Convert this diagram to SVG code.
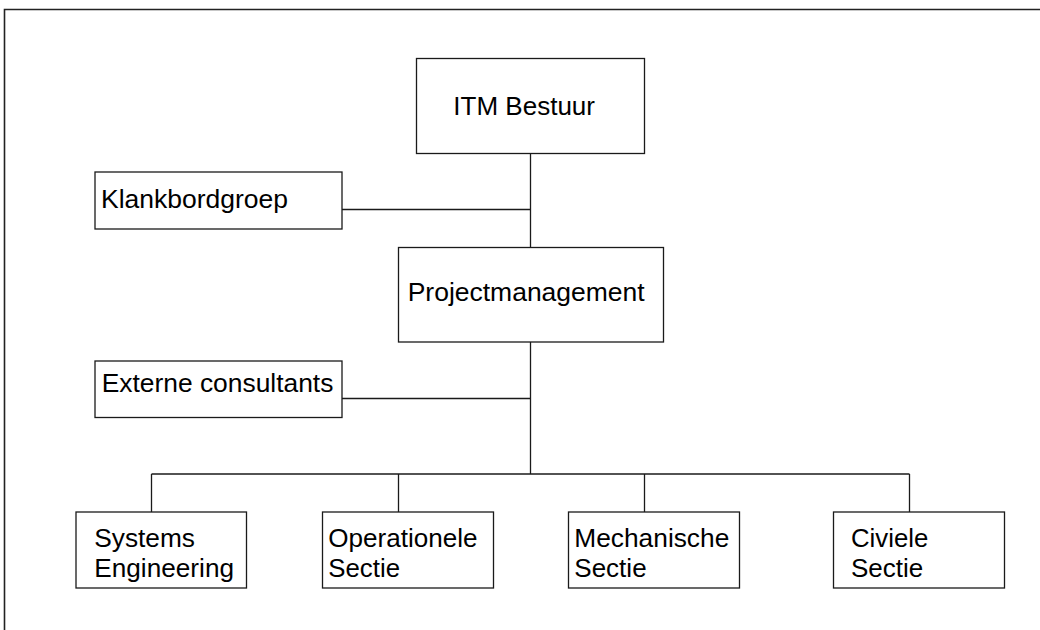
<svg xmlns="http://www.w3.org/2000/svg" width="1040" height="630" viewBox="0 0 1040 630">
<style>
.box{fill:#fff;stroke:#1a1a1a;stroke-width:1.3}
.ln{fill:none;stroke:#1a1a1a;stroke-width:1.3}
text{font-family:"Liberation Sans",Arial,sans-serif;font-size:25px;fill:#000}
</style>
<rect x="0" y="0" width="1040" height="630" fill="#fff"/>
<path d="M4.5,640 V9.5 H1050" fill="none" stroke="#222" stroke-width="1.6"/>
<g id="connectors">
<path class="ln" d="M530.5,153 V247"/>
<path class="ln" d="M342,209.5 H530.5"/>
<path class="ln" d="M530.5,342 V474"/>
<path class="ln" d="M342,398.5 H530.5"/>
<path class="ln" d="M151.5,474 H909.5"/>
<path class="ln" d="M151.5,474 V512 M398.5,474 V512 M644.5,474 V512 M909.5,474 V512"/>
</g>
<g id="itm">
<rect class="box" x="416.5" y="58.5" width="228" height="95"/>
<text x="453.3" y="115" textLength="141.7" lengthAdjust="spacingAndGlyphs">ITM Bestuur</text>
</g>
<g id="klankbord">
<rect class="box" x="95" y="172" width="247" height="57"/>
<text x="101" y="208.3" textLength="187" lengthAdjust="spacingAndGlyphs">Klankbordgroep</text>
</g>
<g id="pm">
<rect class="box" x="398.5" y="247.5" width="265" height="94.5"/>
<text x="407.7" y="301" textLength="237" lengthAdjust="spacingAndGlyphs">Projectmanagement</text>
</g>
<g id="externe">
<rect class="box" x="95" y="361" width="247" height="56.5"/>
<text x="101.7" y="392" textLength="231.7" lengthAdjust="spacingAndGlyphs">Externe consultants</text>
</g>
<g id="systems">
<rect class="box" x="76" y="512" width="170.5" height="76"/>
<text x="94.3" y="547.3" textLength="100.7" lengthAdjust="spacingAndGlyphs">Systems</text>
<text x="94.3" y="577.3" textLength="139.7" lengthAdjust="spacingAndGlyphs">Engineering</text>
</g>
<g id="operationele">
<rect class="box" x="322.5" y="512" width="171" height="76"/>
<text x="328.3" y="547.3" textLength="149.3" lengthAdjust="spacingAndGlyphs">Operationele</text>
<text x="328.3" y="577.3" textLength="71.7" lengthAdjust="spacingAndGlyphs">Sectie</text>
</g>
<g id="mechanische">
<rect class="box" x="568.5" y="512" width="171" height="76"/>
<text x="574.3" y="547.3" textLength="155" lengthAdjust="spacingAndGlyphs">Mechanische</text>
<text x="574.3" y="577.3" textLength="72.3" lengthAdjust="spacingAndGlyphs">Sectie</text>
</g>
<g id="civiele">
<rect class="box" x="833.5" y="512" width="171" height="76"/>
<text x="851" y="547.3" textLength="77.3" lengthAdjust="spacingAndGlyphs">Civiele</text>
<text x="851" y="577.3" textLength="72.3" lengthAdjust="spacingAndGlyphs">Sectie</text>
</g>
</svg>
